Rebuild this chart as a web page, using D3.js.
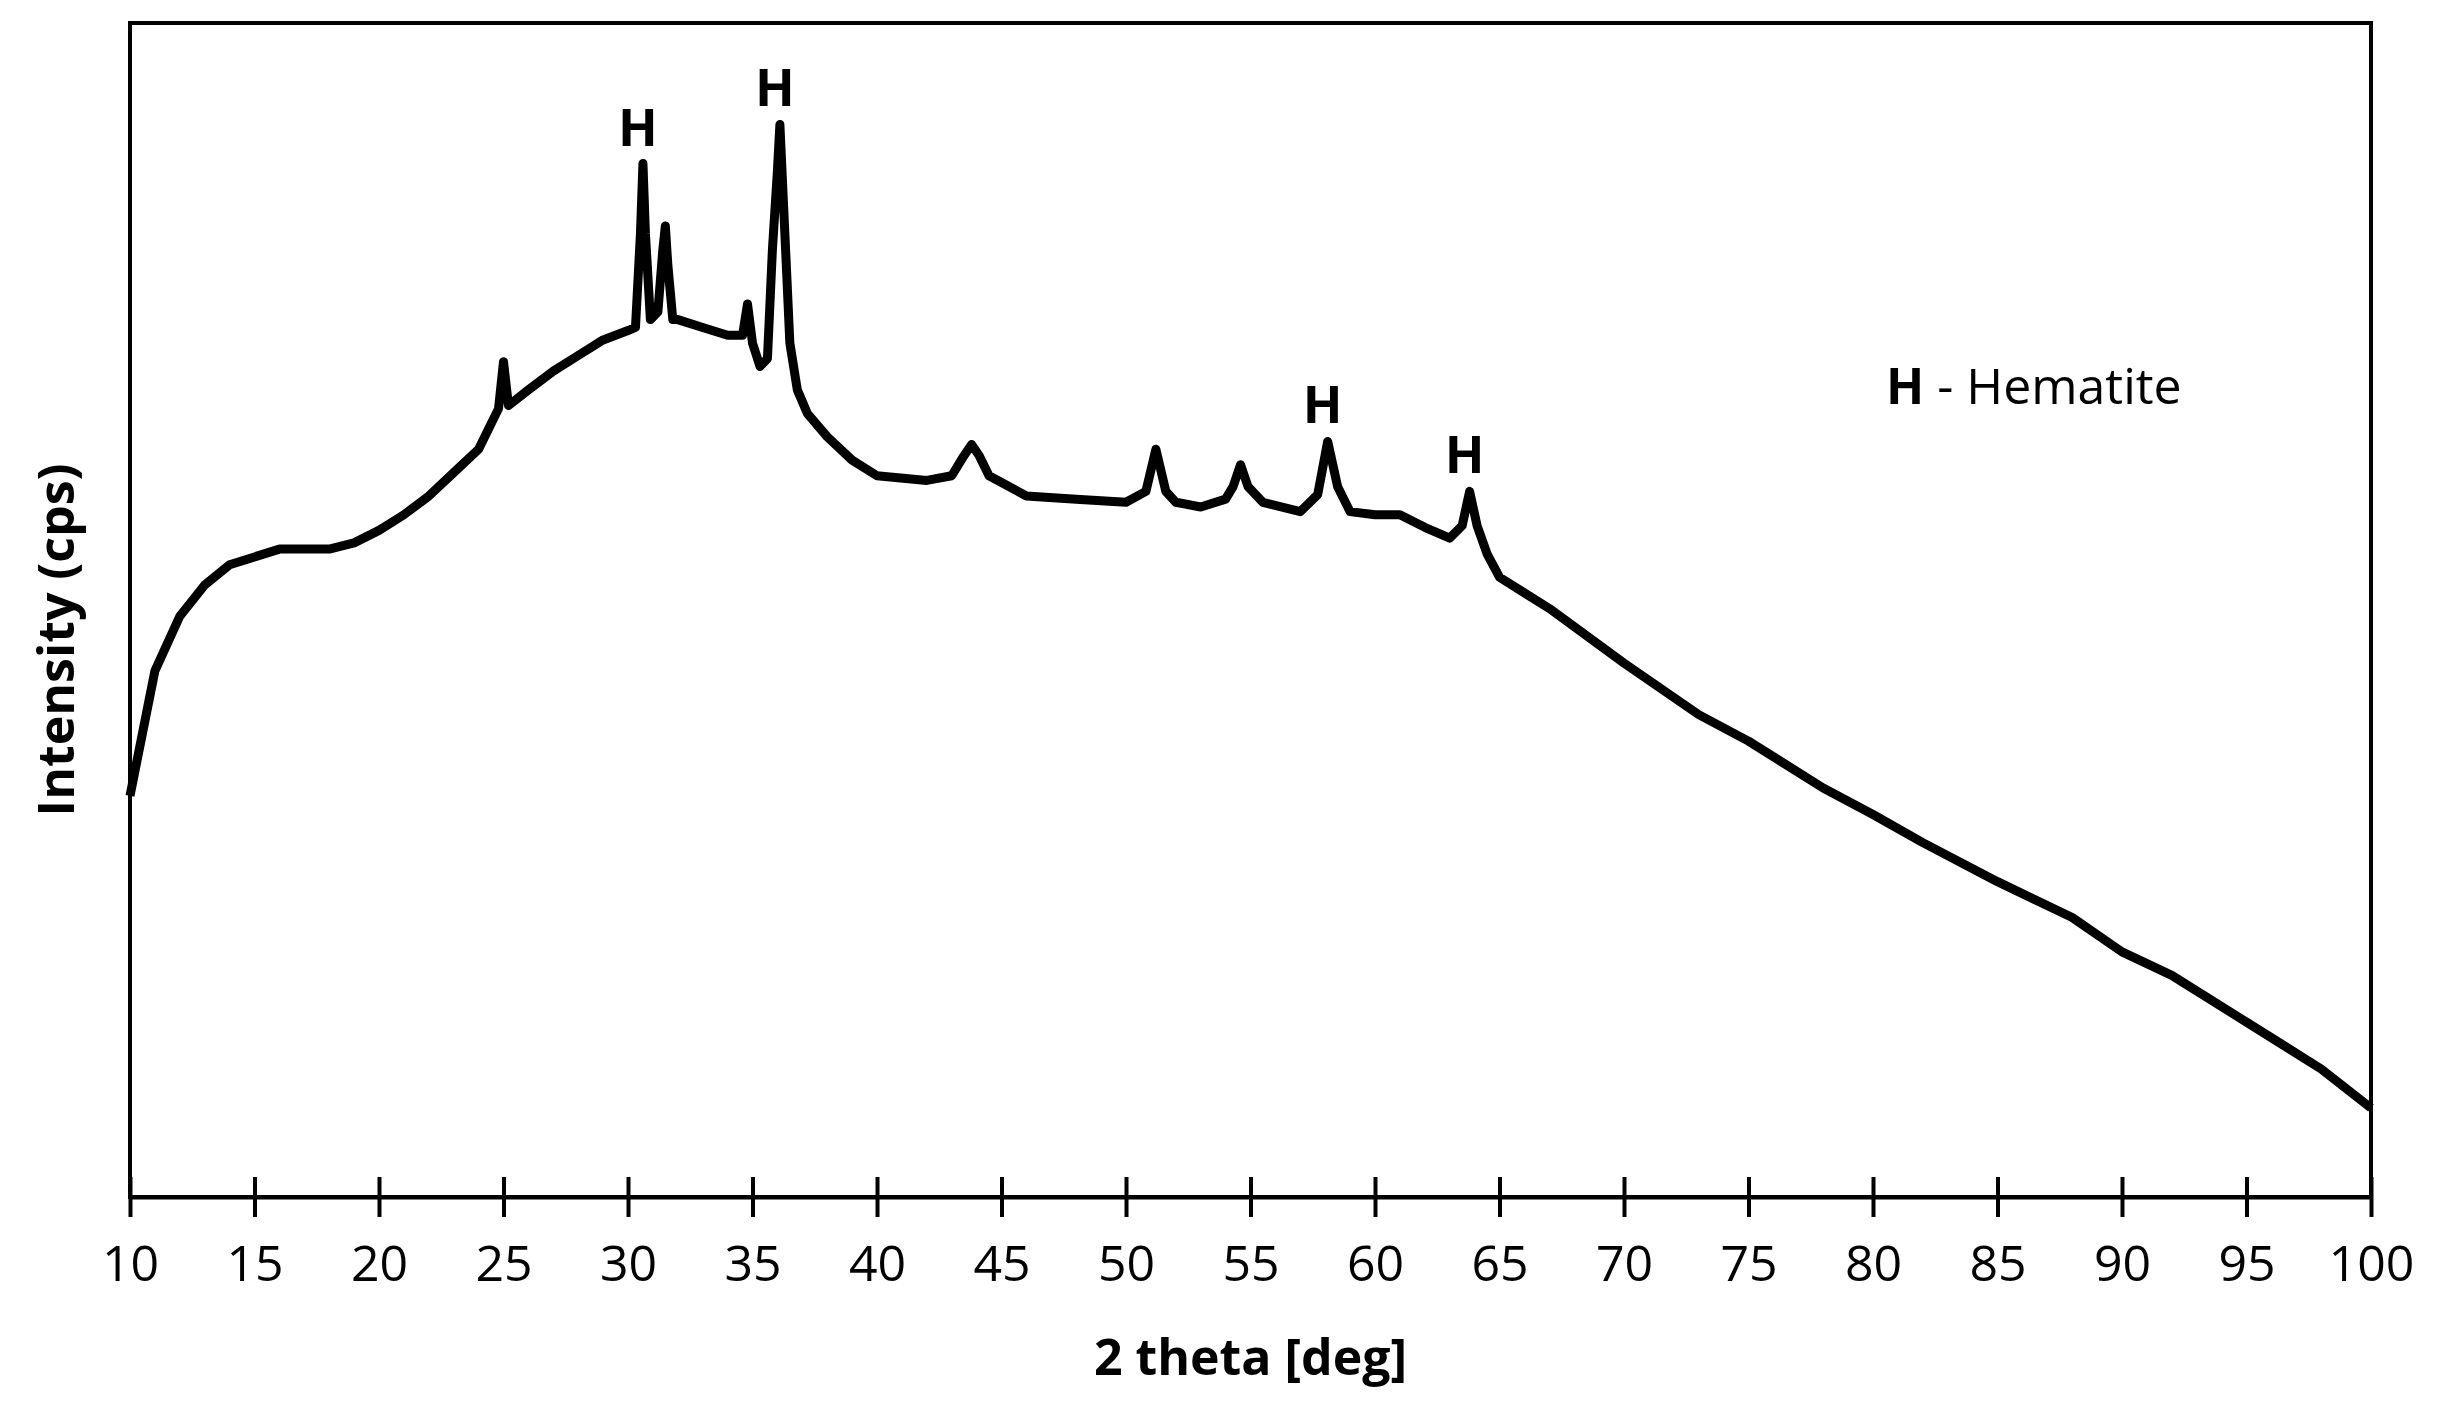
<!DOCTYPE html>
<html><head><meta charset="utf-8">
<script src="https://cdn.jsdelivr.net/npm/d3@7"></script>
<style>body{margin:0;background:#fff}</style></head>
<body><svg id="c" width="2447" height="1411"></svg>
<script>
const twoTheta = [10,10.5,11,12,13,14,15,16,17,18,19,20,21,22,23,24,24.8,25,25.2,26,27,28,29,30,30.3,30.5,30.6,30.7,30.9,31.2,31.4,31.5,31.6,31.8,32,33,34,34.6,34.8,35,35.3,35.6,35.8,36.0,36.1,36.3,36.5,36.8,37.2,38,39,40,42,43,43.5,43.8,44.1,44.5,46,48,50,50.8,51.2,51.6,52,53,54,54.3,54.6,54.9,55.5,57,57.7,58.1,58.5,59,60,61,62,63,63.5,63.8,64.1,64.5,65,67,70,73,75,78,80,82,85,88,90,92,95,98,100];
const intensity = [257,297,337,372,392,405,410,415,415,415,419,427,437,449,464,479,505,535,507,517,529,539,549,555,557,617,662,617,562,567,607,622,597,562,562,557,552,552,572,547,532,537,607,657,687,617,547,517,502,487,472,462,459,462,475,482,475,462,449,447,445,452,479,452,445,442,447,455,469,455,445,439,450,484,455,439,437,437,429,422,430,452,430,412,397,377,342,309,292,262,245,227,202,179,157,142,112,82,57];
const xTicks = d3.range(10,101,5);
const peakLabels = [{x:30.6,y:662},{x:36.1,y:687},{x:58.1,y:484},{x:63.8,y:452}];

const svg = d3.select("#c");
const L=130,R=2371,T=23,B=1197;
const x = d3.scaleLinear().domain([10,100]).range([L,R]);
const y = d3.scaleLinear().domain([0,752]).range([B,T]);
const font = "'Open Sans', 'Liberation Sans', Arial, sans-serif";

svg.append("rect").attr("x",L).attr("y",T).attr("width",R-L).attr("height",B-T)
  .attr("fill","none").attr("stroke","#000").attr("stroke-width",4);

const line = d3.line().x((d,i)=>x(twoTheta[i])).y(d=>y(d)).curve(d3.curveLinear);
svg.append("path").datum(intensity).attr("d",line).attr("fill","none")
  .attr("stroke","#000").attr("stroke-width",9).attr("stroke-linejoin","round");

const ax = svg.append("g").attr("transform",`translate(0,${B})`)
  .call(d3.axisBottom(x).tickValues(xTicks).tickSize(20).tickSizeOuter(0).tickPadding(28));
ax.select(".domain").attr("stroke-width",4);
ax.selectAll(".tick line").attr("stroke-width",4).attr("y1",-20);
ax.selectAll(".tick text").attr("font-family",font).attr("font-size",50).attr("fill","#000");

svg.append("text").attr("x",(L+R)/2).attr("y",1375).attr("text-anchor","middle")
  .attr("font-family",font).attr("font-weight","bold").attr("font-size",50).text("2 theta [deg]");
svg.append("text").attr("transform","translate(74,640) rotate(-90)").attr("text-anchor","middle")
  .attr("font-family",font).attr("font-weight","bold").attr("font-size",50).text("Intensity (cps)");

svg.selectAll(".pl").data(peakLabels).enter().append("text")
  .attr("x",d=>x(d.x)-5).attr("y",d=>y(d.y)-18).attr("text-anchor","middle")
  .attr("font-family",font).attr("font-weight","bold").attr("font-size",52).text("H");

const lg = svg.append("text").attr("x",1886).attr("y",404).attr("font-family",font).attr("font-size",50);
lg.append("tspan").attr("font-weight","bold").text("H");
lg.append("tspan").text("  - Hematite");
</script></body></html>
